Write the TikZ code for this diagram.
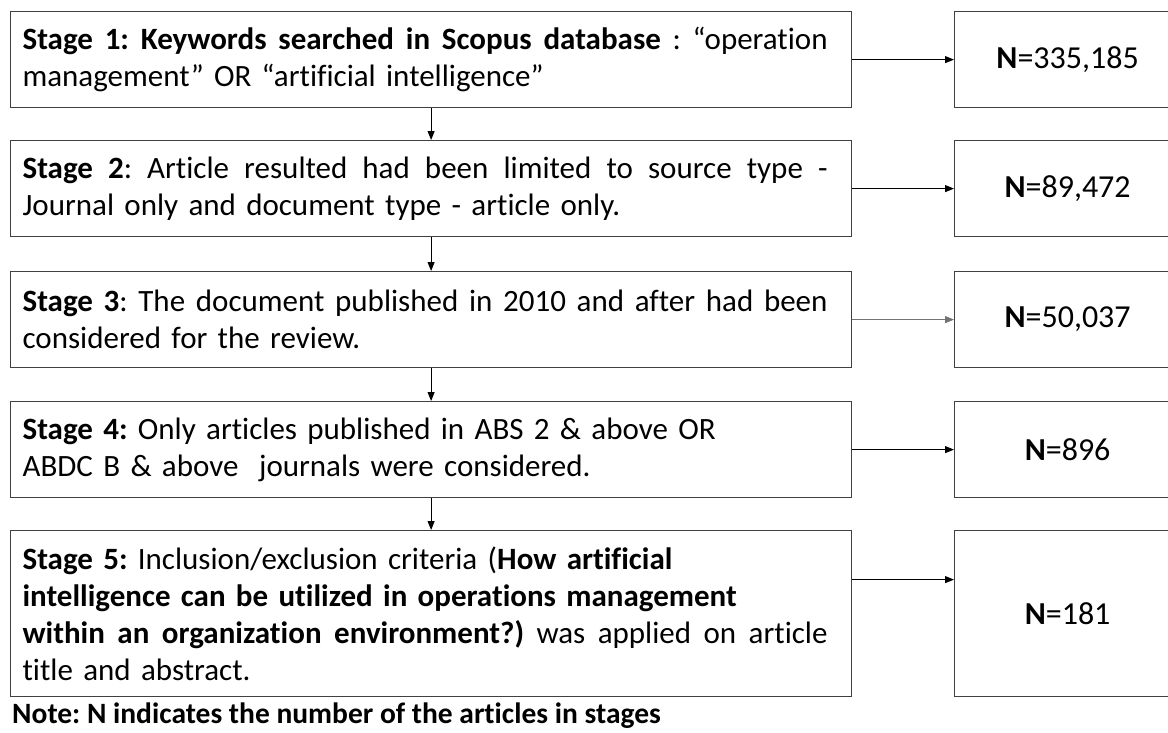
\documentclass[tikz,border=0pt]{standalone}
\usepackage{fontspec}
\setmainfont{Carlito}[Ligatures=NoCommon]
\usepackage{tikz}
\usetikzlibrary{arrows.meta,positioning}
\frenchspacing
% a line spread to the full measure, as in the justified text of the figure
\newcommand{\fullline}[1]{\leavevmode\hbox to 805pt{\spaceskip=0.226em plus 1fil\relax #1}}

\begin{document}
\begin{tikzpicture}[
  x=1pt, y=-1pt,
  stagebox/.style={draw=black!75, line width=1.2pt, anchor=north west, align=left,
    text width=817pt, inner xsep=12pt, inner ysep=0pt, font=\fontsize{31}{37}\selectfont},
  countbox/.style={draw=black!75, line width=1.2pt, anchor=north west,
    minimum width=226pt, font=\fontsize{32}{37}\selectfont},
  arr/.style={-{Triangle[length=9pt,width=7pt]}, line width=0.9pt}
]
\useasboundingbox (0,0) rectangle (1168,732);

% stages
\node[stagebox, minimum height=96pt] (s1) at (10,11)
  {\fullline{\textbf{Stage 1: Keywords searched in Scopus database} : “operation}\\ management” OR “artificial intelligence”};
\node[stagebox, minimum height=96pt] (s2) at (10,140)
  {\fullline{\textbf{Stage 2}: Article resulted had been limited to source type -}\\ Journal only and document type - article only.};
\node[stagebox, minimum height=96pt] (s3) at (10,271)
  {\fullline{\textbf{Stage 3}: The document published in 2010 and after had been}\\ considered for the review.};
\node[stagebox, minimum height=96pt] (s4) at (10,401)
  {\textbf{Stage 4:} Only articles published in ABS 2 \& above OR\\ ABDC B \& above~ journals were considered.};
\node[stagebox, minimum height=166pt] (s5) at (10,530)
  {\textbf{Stage 5:} Inclusion/exclusion criteria (\textbf{How artificial}\\ \textbf{intelligence can be utilized in operations management}\\ \fullline{\textbf{within an organization environment?)} was applied on article}\\ title and abstract.};

% counts
\node[countbox, minimum height=96pt] (n1) at (954,11) {\textbf{N}=335,185};
\node[countbox, minimum height=96pt] (n2) at (954,140) {\textbf{N}=89,472};
\node[countbox, minimum height=96pt] (n3) at (954,271) {\textbf{N}=50,037};
\node[countbox, minimum height=96pt] (n4) at (954,401) {\textbf{N}=896};
\node[countbox, minimum height=166pt] (n5) at (954,530) {\textbf{N}=181};

\node[anchor=base west, inner sep=0pt, font=\fontsize{29.5}{37}\selectfont\bfseries] (note) at (12,723)
  {Note: N indicates the number of the articles in stages};

% arrows
\foreach \i [count=\j from 2] in {1,...,4}
  \draw[arr] (s\i) -- (s\j);
\foreach \i in {1,2,4}
  \draw[arr] (s\i) -- (n\i);
\draw[arr, black!55] (s3) -- (n3);
\draw[arr] ([yshift=34pt]s5.east) -- ([yshift=34pt]n5.west);
\end{tikzpicture}
\end{document}
